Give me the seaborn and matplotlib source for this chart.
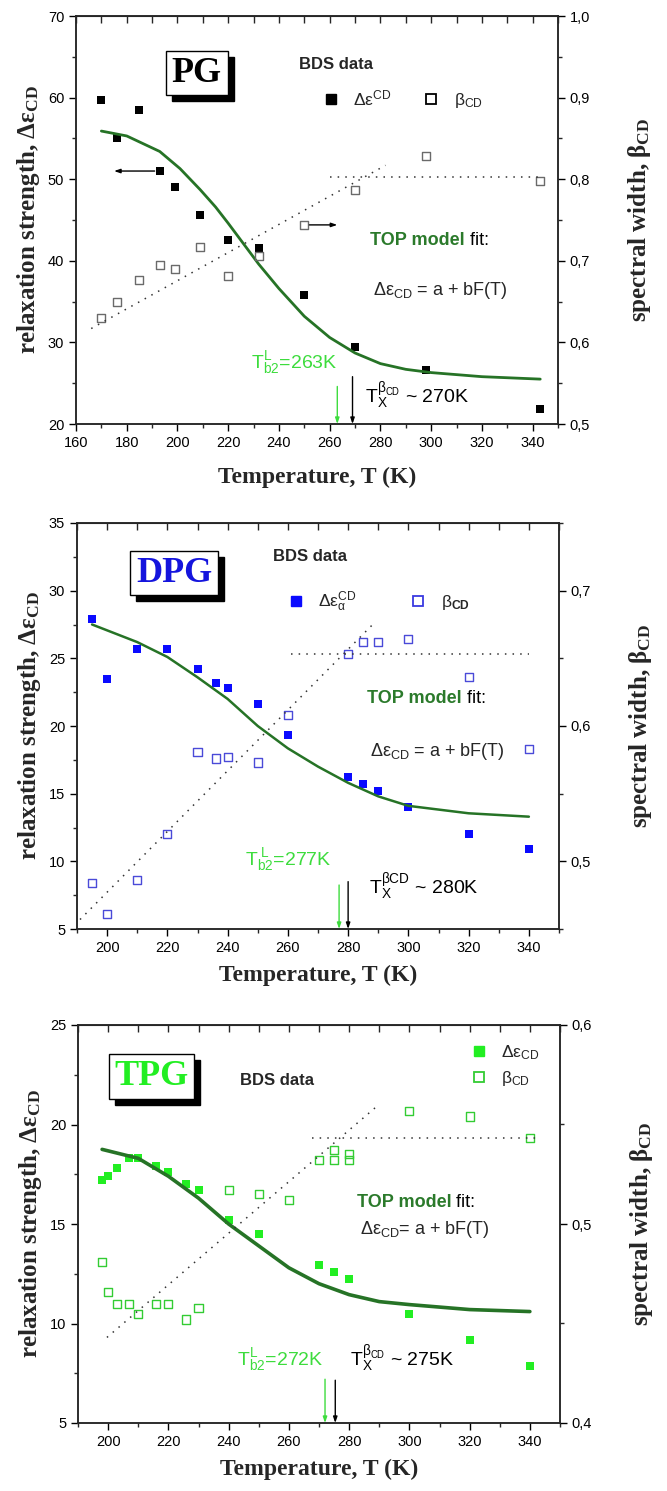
import numpy as np
import pandas as pd
import seaborn as sns
import matplotlib.pyplot as plt
from matplotlib.lines import Line2D
from matplotlib.patches import Rectangle
from matplotlib.ticker import MultipleLocator, FuncFormatter

# ---------------- PG ----------------
pg_temp = [170, 176, 185, 193, 199, 209, 220, 232, 250, 270, 298, 343]
pg_deps = [59.7, 55.1, 58.5, 51.0, 49.0, 45.6, 42.5, 41.6, 35.8, 29.4, 26.6, 21.8]
pg_beta = [0.630, 0.650, 0.677, 0.695, 0.690, 0.717, 0.681, 0.706, 0.744, 0.787, 0.828, 0.798]
pg_fit_temp = [170, 180, 193, 201, 209, 215, 220, 226, 232, 240, 250, 260, 270, 280, 290, 300, 320, 343]
pg_fit_deps = [55.9, 55.3, 53.4, 51.3, 48.7, 46.6, 44.6, 42.1, 39.6, 36.6, 33.2, 30.6, 28.7, 27.4, 26.7, 26.3, 25.8, 25.5]
pg_rise_temp, pg_rise_beta = [166, 282], [0.617, 0.817]
pg_flat_temp, pg_flat_beta = [260, 344], [0.803, 0.803]
pg_tb2, pg_tx = 263, 269

# ---------------- DPG ----------------
dpg_temp = [195, 200, 210, 220, 230, 236, 240, 250, 260, 280, 285, 290, 300, 320, 340]
dpg_deps = [27.9, 23.5, 25.7, 25.7, 24.2, 23.2, 22.8, 21.6, 19.3, 16.2, 15.7, 15.2, 14.0, 12.0, 10.9]
dpg_beta = [0.484, 0.461, 0.486, 0.520, 0.581, 0.576, 0.577, 0.573, 0.608, 0.653, 0.662, 0.662, 0.664, 0.636, 0.583]
dpg_fit_temp = [195, 210, 220, 230, 240, 250, 260, 270, 280, 290, 300, 320, 340]
dpg_fit_deps = [27.5, 26.2, 25.1, 23.6, 22.0, 20.0, 18.35, 17.0, 15.8, 14.8, 14.1, 13.55, 13.3]
dpg_rise_temp, dpg_rise_beta = [191, 288.6], [0.457, 0.676]
dpg_flat_temp, dpg_flat_beta = [261, 340], [0.653, 0.653]
dpg_tb2, dpg_tx = 277, 280

# ---------------- TPG ----------------
tpg_temp = [198, 200, 203, 207, 210, 216, 220, 226, 230, 240, 250, 270, 275, 280, 300, 320, 340]
tpg_deps = [17.2, 17.4, 17.8, 18.3, 18.3, 17.9, 17.6, 17.0, 16.7, 15.2, 14.5, 12.95, 12.6, 12.25, 10.5, 9.15, 7.85]
tpg_beta_temp = [198, 200, 203, 207, 210, 216, 220, 226, 230, 240, 250, 260, 270, 275, 275, 280, 280, 300, 320, 340]
tpg_beta = [0.481, 0.466, 0.460, 0.460, 0.455, 0.460, 0.460, 0.452, 0.458, 0.517, 0.515, 0.512,
            0.532, 0.537, 0.532, 0.535, 0.532, 0.557, 0.554, 0.543]
tpg_fit_temp = [198, 210, 220, 230, 240, 250, 260, 270, 280, 290, 300, 320, 340]
tpg_fit_deps = [18.75, 18.3, 17.4, 16.3, 15.0, 13.9, 12.8, 12.0, 11.45, 11.1, 10.95, 10.7, 10.6]
tpg_rise_temp, tpg_rise_beta = [199.6, 289.1], [0.443, 0.559]
tpg_flat_temp, tpg_flat_beta = [267.6, 342.2], [0.543, 0.543]
tpg_tb2, tpg_tx = 272, 275.4

FIT = "#267326"
TOPC = "#2b7a2b"
LGREEN = "#3ddc3d"

sns.set_style("ticks")
plt.rcParams["font.family"] = ["Liberation Sans", "DejaVu Sans"]
plt.rcParams["mathtext.fontset"] = "custom"
plt.rcParams["mathtext.rm"] = "Liberation Sans"
plt.rcParams["mathtext.it"] = "Liberation Sans:italic"
plt.rcParams["mathtext.bf"] = "Liberation Sans:bold"

fig = plt.figure(figsize=(6.67, 14.91), dpi=100)
W, H = 667, 1491
boxes = []


def make_axes(l, r, t, b):
    return fig.add_axes([l / W, 1 - b / H, (r - l) / W, (b - t) / H])


comma = FuncFormatter(lambda v, p: f"{v:.1f}".replace(".", ","))


def style(ax, ax2, xlim, xmaj, ylim, ymaj, y2lim, xpad):
    ax.set_xlim(*xlim)
    ax.set_ylim(*ylim)
    ax2.set_ylim(*y2lim)
    ax.xaxis.set_major_locator(MultipleLocator(xmaj))
    ax.xaxis.set_minor_locator(MultipleLocator(xmaj / 2))
    ax.yaxis.set_major_locator(MultipleLocator(ymaj))
    ax.yaxis.set_minor_locator(MultipleLocator(ymaj / 2))
    ax2.yaxis.set_major_locator(MultipleLocator(0.1))
    ax2.yaxis.set_minor_locator(MultipleLocator(0.05))
    ax2.yaxis.set_major_formatter(comma)
    for a in (ax, ax2):
        a.tick_params(which="major", direction="out", length=5, width=1, labelsize=10.5, colors="black")
        a.tick_params(which="minor", direction="out", length=3, width=1)
        for s in a.spines.values():
            s.set_visible(True)
            s.set_linewidth(1.1)
    sec = ax.secondary_xaxis("top")
    sec.xaxis.set_major_locator(MultipleLocator(xmaj))
    sec.xaxis.set_minor_locator(MultipleLocator(xmaj / 2))
    sec.tick_params(which="both", direction="in", length=5, width=1, labeltop=False)
    ax.set_xlabel("Temperature, T (K)", family="Liberation Serif", fontweight="bold", fontsize=17, labelpad=xpad)
    ax.set_ylabel(r"relaxation strength, $\mathregular{Δε_{CD}}$", family="Liberation Serif",
                  fontweight="bold", fontsize=18, labelpad=4)
    ax2.set_ylabel(r"spectral width, $\mathregular{β_{CD}}$", family="Liberation Serif",
                   fontweight="bold", fontsize=18, labelpad=26)


def box_label(ax, ax2, x, y, text, color):
    t = ax2.text(x, y, text, transform=ax.transData, color=color, zorder=6, ha="center", va="center",
                 fontsize=26, fontweight="bold", family="Liberation Serif",
                 bbox=dict(boxstyle="square,pad=0.16", fc="white", ec="black", lw=1))
    boxes.append((ax2, t))


def plot_data(ax, ax2, t, d, bt, b, ft, fd, rt, rb, flt, flb, fill, edge, fitlw):
    df = pd.DataFrame({"T": t, "de": d})
    dfb = pd.DataFrame({"T": bt, "beta": b})
    dfit = pd.DataFrame({"T": ft, "fit": fd})
    sns.lineplot(data=dfit, x="T", y="fit", ax=ax, color=FIT, lw=fitlw, sort=False, estimator=None)
    sns.scatterplot(data=df, x="T", y="de", ax=ax, marker="s", color=fill, s=30, linewidth=0)
    sns.lineplot(x=rt, y=rb, ax=ax2, color="#333333", lw=1.1, linestyle=(0, (1, 4)))
    sns.lineplot(x=flt, y=flb, ax=ax2, color="#333333", lw=1.1, linestyle=(0, (1, 4)))
    sns.scatterplot(data=dfb, x="T", y="beta", ax=ax2, marker="s", s=34, facecolor="none",
                    edgecolor=edge, linewidth=1.0)
    ax.set_xlabel("")
    ax.set_ylabel("")
    ax2.set_ylabel("")


ARW = dict(arrowstyle="-|>,head_length=0.35,head_width=0.12", lw=1, shrinkA=0, shrinkB=0)


def varrows(ax, tb2, ytb2, tx, ytx, ybot):
    ax.annotate("", xy=(tb2, ybot), xytext=(tb2, ytb2), arrowprops=dict(color=LGREEN, **ARW))
    ax.annotate("", xy=(tx, ybot), xytext=(tx, ytx), arrowprops=dict(color="black", **ARW))


def top_text(ax2, ax, x, y, yeq, eq):
    t1 = ax2.text(x, y, "TOP model", transform=ax.transData, color=TOPC, fontweight="bold",
                  fontsize=13, va="center", ha="left")
    ax2.annotate(" fit:", xy=(1, 0), xycoords=t1, va="bottom", ha="left", fontsize=13, color="black")
    ax2.text(x + 1, yeq, eq, transform=ax.transData, fontsize=13, va="center", ha="left")


def legend(ax2, fill, edge, labels, anchor, ncol, colsp, lsp=0.5):
    h1 = Line2D([], [], ls="none", marker="s", ms=6.5, mfc=fill, mec=fill)
    h2 = Line2D([], [], ls="none", marker="s", ms=6.5, mfc="none", mec=edge, mew=1.3)
    ax2.legend([h1, h2], labels, loc="center left", bbox_to_anchor=anchor, ncol=ncol, frameon=False,
               fontsize=12.5, handlelength=1.0, handletextpad=0.8, columnspacing=colsp,
               borderpad=0, borderaxespad=0, labelspacing=lsp)


# ---------------- panel 1: PG ----------------
ax = make_axes(76, 558, 16, 424)
ax2 = ax.twinx()
plot_data(ax, ax2, pg_temp, pg_deps, pg_temp, pg_beta, pg_fit_temp, pg_fit_deps,
          pg_rise_temp, pg_rise_beta, pg_flat_temp, pg_flat_beta, "black", "#6a6a6a", 2.0)
style(ax, ax2, (160, 350), 20, (20, 70), 10, (0.5, 1.0), 12)
box_label(ax, ax2, 207.6, 63.0, "PG", "black")
ax2.text(247.8, 64.0, "BDS data", transform=ax.transData, fontsize=12, fontweight="bold", va="center")
legend(ax2, "black", "black", [r"$\mathregular{Δε^{CD}}$", r"$\mathregular{β_{CD}}$"],
       (0.51, 0.796), 2, 1.8)
top_text(ax2, ax, 276, 42.5, 36.4, r"$\mathregular{Δε_{CD}}$ = a + bF(T)")
ax.annotate("", xy=(175, 51.0), xytext=(191, 51.0), arrowprops=dict(color="black", **ARW))
ax2.annotate("", xy=(263, 0.744), xytext=(252, 0.744), arrowprops=dict(color="black", **ARW))
varrows(ax, pg_tb2, 24.6, pg_tx, 25.8, 20)
ax2.text(228.8, 27.5, r"$\mathregular{T^L_{b2}}$=263K", transform=ax.transData, color=LGREEN,
         fontsize=14, va="center")
ax2.text(274, 23.35, r"$\mathregular{T_X^{β_{CD}}}$ ~ 270K", transform=ax.transData, color="black",
         fontsize=14, va="center")

# ---------------- panel 2: DPG ----------------
ax = make_axes(77, 559, 523, 929)
ax2 = ax.twinx()
plot_data(ax, ax2, dpg_temp, dpg_deps, dpg_temp, dpg_beta, dpg_fit_temp, dpg_fit_deps,
          dpg_rise_temp, dpg_rise_beta, dpg_flat_temp, dpg_flat_beta, "#0a0aff", "#4a4ad8", 1.8)
style(ax, ax2, (190, 350), 20, (5, 35), 5, (0.45, 0.75), 7)
box_label(ax, ax2, 222.3, 31.3, "DPG", "#1414dd")
ax2.text(255.2, 32.5, "BDS data", transform=ax.transData, fontsize=12, fontweight="bold", va="center")
legend(ax2, "#0a0aff", "#3a3ae0", [r"$\mathregular{Δε_{α}^{CD}}$", r"$\mathregular{β_{\mathbf{CD}}}$"],
       (0.436, 0.805), 2, 3.05)
top_text(ax2, ax, 286.4, 22.0, 18.1, r"$\mathregular{Δε_{CD}}$ = a + bF(T)")
varrows(ax, dpg_tb2, 8.25, dpg_tx, 8.5, 5)
ax2.text(245.9, 10.1, r"$\mathregular{T_{b2}^{\ L}}$=277K", transform=ax.transData, color=LGREEN,
         fontsize=14, va="center")
ax2.text(286.9, 8.1, r"$\mathregular{T_X^{βCD}}$ ~ 280K", transform=ax.transData, color="black",
         fontsize=14, va="center")

# ---------------- panel 3: TPG ----------------
ax = make_axes(78, 560, 1025, 1423)
ax2 = ax.twinx()
plot_data(ax, ax2, tpg_temp, tpg_deps, tpg_beta_temp, tpg_beta, tpg_fit_temp, tpg_fit_deps,
          tpg_rise_temp, tpg_rise_beta, tpg_flat_temp, tpg_flat_beta, "#22ee22", "#33cc33", 2.6)
style(ax, ax2, (190, 350), 20, (5, 25), 5, (0.4, 0.6), 7)
box_label(ax, ax2, 214.4, 22.4, "TPG", "#22ee22")
ax2.text(243.8, 22.2, "BDS data", transform=ax.transData, fontsize=12, fontweight="bold", va="center")
legend(ax2, "#22ee22", "#33cc33", [r"$\mathregular{Δε_{CD}}$", r"$\mathregular{β_{CD}}$"],
       (0.813, 0.898), 1, 1.0, 0.45)
top_text(ax2, ax, 282.5, 16.1, 14.7, r"$\mathregular{Δε_{CD}}$= a + bF(T)")
varrows(ax, tpg_tb2, 7.2, tpg_tx, 7.15, 5)
ax2.text(242.7, 8.2, r"$\mathregular{T^L_{b2}}$=272K", transform=ax.transData, color=LGREEN,
         fontsize=14, va="center")
ax2.text(280.3, 8.2, r"$\mathregular{T_X^{β_{CD}}}$ ~ 275K", transform=ax.transData, color="black",
         fontsize=14, va="center")

# drop shadows behind the sample-name boxes
fig.canvas.draw()
for a2, t in boxes:
    bb = t.get_bbox_patch().get_window_extent()
    a2.add_patch(Rectangle((bb.x0 + 6, bb.y0 - 6), bb.width, bb.height, transform=None,
                           facecolor="black", edgecolor="black", zorder=5))

fig.savefig("out.png", dpi=100)
